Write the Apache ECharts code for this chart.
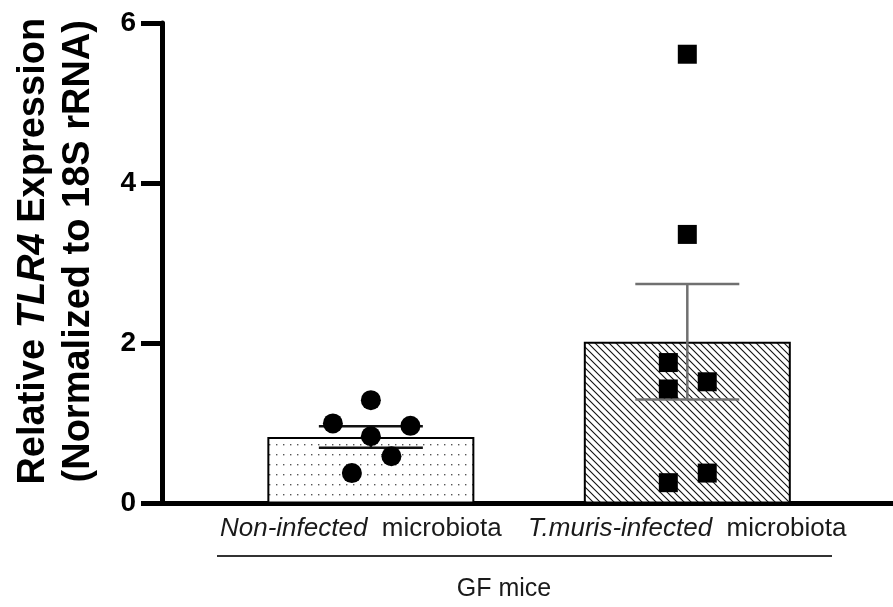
<!DOCTYPE html>
<html>
<head>
<meta charset="utf-8">
<script src="https://cdn.jsdelivr.net/npm/echarts@6/dist/echarts.min.js"></script>
<style>
  html, body { margin: 0; padding: 0; background: #fff; }
  #main { width: 893px; height: 607px; }
</style>
</head>
<body>
<div id="main"></div>
<script>
// group names (italic part + plain part)
var groupItalic = ['Non-infected', 'T.muris-infected'];
var groupPlain = 'microbiota';
var yTicks = [0, 2, 4, 6];

// bar means and SEM
var barMeans = [0.83, 2.02];
var barSem = [0.135, 0.72];

// individual animals
var nonInfVals = [1.29, 1.00, 0.97, 0.84, 0.59, 0.38];
var nonInfJitter = [0, -0.12, 0.125, 0, 0.065, -0.06];
var tmVals = [5.61, 3.36, 1.76, 1.43, 1.52, 0.38, 0.26];
var tmJitter = [0, 0, -0.06, -0.06, 0.063, 0.063, -0.06];

var FONT = '"Liberation Sans", Arial, sans-serif';

// 点状填充
function dotPattern() {
  var c = document.createElement('canvas');
  c.width = 7; c.height = 10;
  var ctx = c.getContext('2d');
  ctx.fillStyle = '#fff';
  ctx.fillRect(0, 0, 7, 10);
  ctx.fillStyle = '#555';
  ctx.fillRect(3, 4, 1.4, 1.4);
  return c;
}
// 斜线填充
function hatchPattern() {
  var s = 7;
  var c = document.createElement('canvas');
  c.width = s; c.height = s;
  var ctx = c.getContext('2d');
  ctx.fillStyle = '#fff';
  ctx.fillRect(0, 0, s, s);
  ctx.strokeStyle = '#111';
  ctx.lineWidth = 1.1;
  ctx.beginPath();
  ctx.moveTo(-1, -1); ctx.lineTo(s + 1, s + 1);
  ctx.moveTo(-1, s - 1); ctx.lineTo(1, s + 1);
  ctx.moveTo(s - 1, -1); ctx.lineTo(s + 1, 1);
  ctx.stroke();
  return c;
}

var chart = echarts.init(document.getElementById('main'));

var option = {
  animation: false,
  grid: { left: 162, top: 23, right: 0, bottom: 103.5 },
  xAxis: {
    type: 'value',
    min: -0.66,
    max: 1.65,
    splitLine: { show: false },
    axisTick: { show: false },
    axisLine: { onZero: false, lineStyle: { color: '#000', width: 5 } },
    axisLabel: {
      customValues: [0, 1],
      margin: 12,
      formatter: function (v) {
        var i = Math.round(v);
        // first label sits a little left of its bar in the original
        return '{i|' + groupItalic[i] + '}{n|  ' + groupPlain + '}' + (i === 0 ? '{s|}' : '');
      },
      rich: {
        i: { fontSize: 26, fontStyle: 'italic', fontFamily: FONT, color: '#1a1a1a' },
        n: { fontSize: 26, fontFamily: FONT, color: '#1a1a1a' },
        s: { width: 20 }
      }
    }
  },
  yAxis: {
    type: 'value',
    min: 0,
    max: 6,
    interval: 2,
    splitLine: { show: false },
    axisLine: { show: true, onZero: false, lineStyle: { color: '#000', width: 5 } },
    axisTick: { show: true, length: 21, lineStyle: { color: '#000', width: 5 } },
    axisLabel: {
      margin: 26,
      fontSize: 28,
      fontWeight: 'bold',
      fontFamily: FONT,
      color: '#000',
      formatter: function (v) { return yTicks.indexOf(v) >= 0 ? String(v) : ''; }
    },
    name: '{b|Relative }{i|TLR4}{b| Expression}\n{b|(Normalized to 18S rRNA)}',
    nameLocation: 'middle',
    nameRotate: 90,
    nameGap: 61,
    nameTextStyle: {
      padding: [0, 0, 0, 24],
      lineHeight: 45,
      rich: {
        b: { fontSize: 38, fontWeight: 'bold', fontFamily: FONT, color: '#000', lineHeight: 45 },
        i: { fontSize: 38, fontWeight: 'bold', fontStyle: 'italic', fontFamily: FONT, color: '#000', lineHeight: 45 }
      }
    }
  },
  series: [
    {
      type: 'bar',
      barWidth: 207,
      data: [
        { value: [0, barMeans[0]], itemStyle: { color: { image: dotPattern(), repeat: 'repeat' } } },
        { value: [1, barMeans[1]], itemStyle: { color: { image: hatchPattern(), repeat: 'repeat' } } }
      ],
      itemStyle: { borderColor: '#000', borderWidth: 2 },
      z: 1
    },
    {
      type: 'custom',
      z: 3,
      data: barMeans.map(function (m, i) { return [i, m - barSem[i], m + barSem[i]]; }),
      renderItem: function (params, api) {
        var lo = api.coord([api.value(0), api.value(1)]);
        var hi = api.coord([api.value(0), api.value(2)]);
        var half = 52;
        var col = params.dataIndex === 0 ? '#111' : '#707070';
        var st = { stroke: col, lineWidth: 2.5 };
        return {
          type: 'group',
          children: [
            { type: 'line', shape: { x1: hi[0], y1: hi[1], x2: lo[0], y2: lo[1] }, style: st },
            { type: 'line', shape: { x1: hi[0] - half, y1: hi[1], x2: hi[0] + half, y2: hi[1] }, style: st },
            { type: 'line', shape: { x1: lo[0] - half, y1: lo[1], x2: lo[0] + half, y2: lo[1] }, style: st }
          ]
        };
      }
    },
    {
      type: 'scatter',
      symbol: 'circle',
      symbolSize: 20,
      z: 4,
      itemStyle: { color: '#000', opacity: 1 },
      data: nonInfVals.map(function (v, i) { return [0 + nonInfJitter[i], v]; })
    },
    {
      type: 'scatter',
      symbol: 'rect',
      symbolSize: 19,
      z: 4,
      itemStyle: { color: '#000', opacity: 1 },
      data: tmVals.map(function (v, i) { return [1 + tmJitter[i], v]; })
    }
  ],
  graphic: [
    {
      type: 'line',
      shape: { x1: 217, y1: 556, x2: 832, y2: 556 },
      style: { stroke: '#333', lineWidth: 2 }
    },
    {
      type: 'text',
      x: 504,
      y: 589,
      style: { text: 'GF mice', fill: '#1a1a1a', font: '25px ' + FONT, align: 'center', verticalAlign: 'middle' }
    }
  ]
};

chart.setOption(option);
</script>
</body>
</html>
